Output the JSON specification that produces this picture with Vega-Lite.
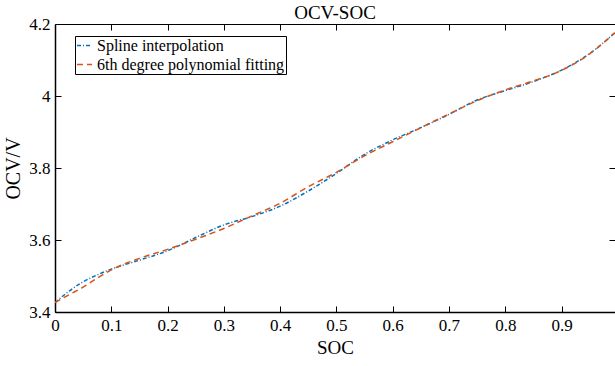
{
  "$schema": "https://vega.github.io/schema/vega-lite/v6.json",
  "width": 560,
  "height": 288,
  "autosize": {"type": "none"},
  "padding": {"left": 55, "top": 24, "right": 0, "bottom": 54},
  "background": "white",
  "config": {
    "font": "Liberation Serif",
    "view": {"stroke": "black", "strokeWidth": 1},
    "axis": {"grid": false, "domainColor": "black", "tickColor": "black", "labelColor": "black", "titleColor": "black", "labelFont": "Liberation Serif", "titleFont": "Liberation Serif", "titleFontWeight": "normal", "tickWidth": 1}
  },
  "title": {"text": "OCV-SOC", "font": "Liberation Serif", "fontSize": 19, "fontWeight": "normal", "color": "black", "offset": -8},
  "data": {"values": [
    {"series": "Spline interpolation", "soc": 0, "ocv": 3.426},
    {"series": "Spline interpolation", "soc": 0.025, "ocv": 3.458},
    {"series": "Spline interpolation", "soc": 0.05, "ocv": 3.484},
    {"series": "Spline interpolation", "soc": 0.075, "ocv": 3.503},
    {"series": "Spline interpolation", "soc": 0.1, "ocv": 3.519},
    {"series": "Spline interpolation", "soc": 0.15, "ocv": 3.544},
    {"series": "Spline interpolation", "soc": 0.2, "ocv": 3.570},
    {"series": "Spline interpolation", "soc": 0.25, "ocv": 3.607},
    {"series": "Spline interpolation", "soc": 0.3, "ocv": 3.642},
    {"series": "Spline interpolation", "soc": 0.35, "ocv": 3.665},
    {"series": "Spline interpolation", "soc": 0.4, "ocv": 3.694},
    {"series": "Spline interpolation", "soc": 0.45, "ocv": 3.736},
    {"series": "Spline interpolation", "soc": 0.5, "ocv": 3.785},
    {"series": "Spline interpolation", "soc": 0.55, "ocv": 3.838},
    {"series": "Spline interpolation", "soc": 0.6, "ocv": 3.878},
    {"series": "Spline interpolation", "soc": 0.65, "ocv": 3.912},
    {"series": "Spline interpolation", "soc": 0.7, "ocv": 3.949},
    {"series": "Spline interpolation", "soc": 0.75, "ocv": 3.989},
    {"series": "Spline interpolation", "soc": 0.8, "ocv": 4.015},
    {"series": "Spline interpolation", "soc": 0.85, "ocv": 4.040},
    {"series": "Spline interpolation", "soc": 0.9, "ocv": 4.072},
    {"series": "Spline interpolation", "soc": 0.95, "ocv": 4.118},
    {"series": "Spline interpolation", "soc": 0.995, "ocv": 4.176},
    {"series": "6th degree polynomial fitting", "soc": 0, "ocv": 3.426},
    {"series": "6th degree polynomial fitting", "soc": 0.025, "ocv": 3.448},
    {"series": "6th degree polynomial fitting", "soc": 0.05, "ocv": 3.469},
    {"series": "6th degree polynomial fitting", "soc": 0.075, "ocv": 3.494},
    {"series": "6th degree polynomial fitting", "soc": 0.1, "ocv": 3.517},
    {"series": "6th degree polynomial fitting", "soc": 0.15, "ocv": 3.549},
    {"series": "6th degree polynomial fitting", "soc": 0.2, "ocv": 3.574},
    {"series": "6th degree polynomial fitting", "soc": 0.25, "ocv": 3.602},
    {"series": "6th degree polynomial fitting", "soc": 0.3, "ocv": 3.632},
    {"series": "6th degree polynomial fitting", "soc": 0.35, "ocv": 3.667},
    {"series": "6th degree polynomial fitting", "soc": 0.4, "ocv": 3.702},
    {"series": "6th degree polynomial fitting", "soc": 0.45, "ocv": 3.748},
    {"series": "6th degree polynomial fitting", "soc": 0.5, "ocv": 3.788},
    {"series": "6th degree polynomial fitting", "soc": 0.55, "ocv": 3.834},
    {"series": "6th degree polynomial fitting", "soc": 0.6, "ocv": 3.873},
    {"series": "6th degree polynomial fitting", "soc": 0.65, "ocv": 3.912},
    {"series": "6th degree polynomial fitting", "soc": 0.7, "ocv": 3.950},
    {"series": "6th degree polynomial fitting", "soc": 0.75, "ocv": 3.987},
    {"series": "6th degree polynomial fitting", "soc": 0.8, "ocv": 4.017},
    {"series": "6th degree polynomial fitting", "soc": 0.85, "ocv": 4.042},
    {"series": "6th degree polynomial fitting", "soc": 0.9, "ocv": 4.071},
    {"series": "6th degree polynomial fitting", "soc": 0.95, "ocv": 4.117},
    {"series": "6th degree polynomial fitting", "soc": 0.995, "ocv": 4.176}
  ]},
  "layer": [
    {
      "mark": {"type": "line", "interpolate": "monotone", "strokeWidth": 1.5, "clip": true},
      "encoding": {
        "x": {"field": "soc", "type": "quantitative", "scale": {"domain": [0, 0.995], "nice": false, "zero": false},
              "axis": {"orient": "bottom", "title": "SOC", "titleFontSize": 19, "labelFontSize": 17, "values": [0, 0.1, 0.2, 0.3, 0.4, 0.5, 0.6, 0.7, 0.8, 0.9], "labelExpr": "'' + datum.value", "ticks": false, "tickSize": 0, "labelPadding": 5, "titlePadding": 5, "domainWidth": 1.5, "labelFlush": false}},
        "y": {"field": "ocv", "type": "quantitative", "scale": {"domain": [3.4, 4.2], "nice": false, "zero": false},
              "axis": {"orient": "left", "title": "OCV/V", "titleFontSize": 20, "labelFontSize": 17, "values": [3.4, 3.6, 3.8, 4, 4.2], "labelExpr": "'' + datum.value", "ticks": false, "tickSize": 0, "labelPadding": 5, "titlePadding": 5, "domainWidth": 1.5, "labelFlush": false}},
        "color": {"field": "series", "type": "nominal", "sort": null,
                  "scale": {"domain": ["Spline interpolation", "6th degree polynomial fitting"], "range": ["#0072BD", "#D95319"]},
                  "legend": {"title": null, "orient": "none", "legendX": 20, "legendY": 12, "labelFont": "Liberation Serif", "labelFontSize": 16, "labelColor": "black", "labelLimit": 0, "symbolType": "stroke", "symbolSize": 225, "symbolStrokeWidth": 1.5, "strokeColor": "black", "padding": 1, "rowPadding": 2, "labelOffset": 4, "fillColor": "white"}},
        "strokeDash": {"field": "series", "type": "nominal",
                  "scale": {"domain": ["Spline interpolation", "6th degree polynomial fitting"], "range": [[4, 2, 1, 2], [6, 4]]},
                  "legend": {"title": null, "orient": "none", "legendX": 20, "legendY": 12, "labelFont": "Liberation Serif", "labelFontSize": 16, "labelColor": "black", "labelLimit": 0, "symbolType": "stroke", "symbolSize": 225, "symbolStrokeWidth": 1.5, "strokeColor": "black", "padding": 1, "rowPadding": 2, "labelOffset": 4, "fillColor": "white"}}
      }
    },
    {
      "mark": {"type": "point", "opacity": 0},
      "encoding": {
        "x": {"field": "soc", "type": "quantitative", "axis": {"orient": "top", "title": null, "labels": false, "domain": false, "values": [0.1, 0.2, 0.3, 0.4, 0.5, 0.6, 0.7, 0.8, 0.9], "tickSize": 6, "offset": -6}},
        "y": {"field": "ocv", "type": "quantitative", "axis": {"orient": "right", "title": null, "labels": false, "domain": false, "values": [3.6, 3.8, 4], "tickSize": 6, "offset": -6}}
      }
    },
    {
      "mark": {"type": "point", "opacity": 0},
      "encoding": {
        "x": {"field": "soc", "type": "quantitative", "axis": {"orient": "bottom", "title": null, "labels": false, "domain": false, "values": [0.1, 0.2, 0.3, 0.4, 0.5, 0.6, 0.7, 0.8, 0.9], "tickSize": 6, "offset": -6}},
        "y": {"field": "ocv", "type": "quantitative", "axis": {"orient": "left", "title": null, "labels": false, "domain": false, "values": [3.6, 3.8, 4], "tickSize": 6, "offset": -6}}
      }
    }
  ],
  "resolve": {"axis": {"x": "independent", "y": "independent"}}
}
